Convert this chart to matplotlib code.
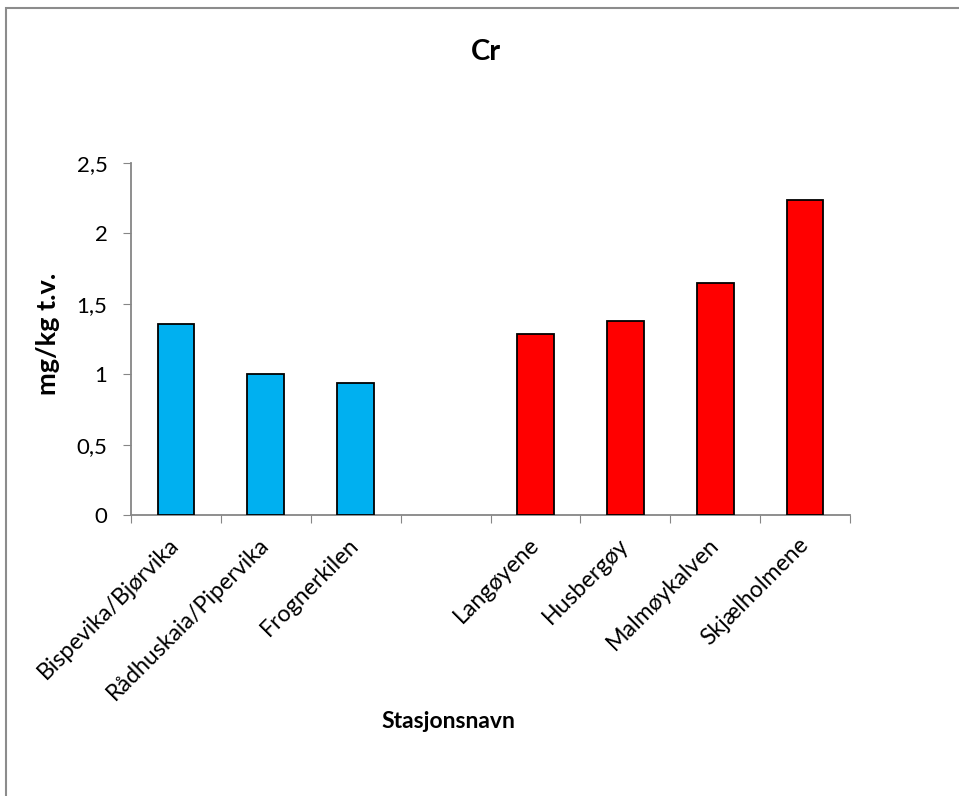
import numpy as np
import matplotlib.pyplot as plt
import matplotlib.transforms as mtransforms
from matplotlib.patches import Rectangle

# data
stasjoner = ['Bispevika/Bjørvika', 'Rådhuskaia/Pipervika', 'Frognerkilen', '',
             'Langøyene', 'Husbergøy', 'Malmøykalven', 'Skjælholmene']
verdier = [1.36, 1.0, 0.94, np.nan, 1.285, 1.38, 1.65, 2.24]
farger = ['#00B0F0', '#00B0F0', '#00B0F0', '#FFFFFF',
          '#FF0000', '#FF0000', '#FF0000', '#FF0000']
y_ticks = [0, 0.5, 1, 1.5, 2, 2.5]
y_ticklabels = ['0', '0,5', '1', '1,5', '2', '2,5']

plt.rcParams['font.family'] = ['Lato', 'DejaVu Sans']

fig = plt.figure(figsize=(9.59, 7.96), dpi=100)
ax = fig.add_axes([131 / 959, 1 - 515 / 796, 719 / 959, 352 / 796])

# ramme rundt figuren (bare venstre og topp synlig)
fig.patches.append(Rectangle((6 / 959, -0.1), 1.2, 1.1 - 8 / 796,
                             transform=fig.transFigure, fill=False,
                             edgecolor='#8C8C8C', lw=1.5))

x = np.arange(len(stasjoner))
ax.bar(x, verdier, width=0.41, color=farger, edgecolor='black', linewidth=1.3, zorder=3)

ax.set_xlim(-0.5, len(stasjoner) - 0.5)
ax.set_ylim(0, 2.5)
ax.set_yticks(y_ticks)
ax.set_yticklabels(y_ticklabels, fontsize=16)
ax.set_xticks(np.arange(-0.5, len(stasjoner), 1.0))
ax.set_xticklabels([])
ax.set_xticks(x, minor=True)
ax.set_xticklabels(stasjoner, minor=True, rotation=45, ha='right', va='center',
                   rotation_mode='anchor', fontsize=16.7)
forskyv = mtransforms.ScaledTranslation(16 / 100, 0, fig.dpi_scale_trans)
for lbl in ax.get_xticklabels(minor=True):
    lbl.set_transform(lbl.get_transform() + forskyv)
ax.tick_params(axis='x', which='minor', length=0, pad=19)
ax.tick_params(axis='x', which='major', length=6, color='#868686', direction='out')
ax.tick_params(axis='y', length=6, color='#868686', direction='out', pad=11)

for s in ['top', 'right']:
    ax.spines[s].set_visible(False)
for s in ['left', 'bottom']:
    ax.spines[s].set_color('#868686')
    ax.spines[s].set_linewidth(1.3)

fig.text(486 / 959, 1 - 52 / 796, 'Cr', ha='center', va='center',
         fontsize=21, fontweight='bold')
fig.text(448 / 959, 1 - 722 / 796, 'Stasjonsnavn', ha='center', va='center',
         fontsize=16.5, fontweight='bold')
fig.text(48 / 959, 1 - 334 / 796, 'mg/kg t.v.', ha='center', va='center',
         rotation=90, fontsize=19.5, fontweight='bold')

fig.savefig('out.png', dpi=100)
